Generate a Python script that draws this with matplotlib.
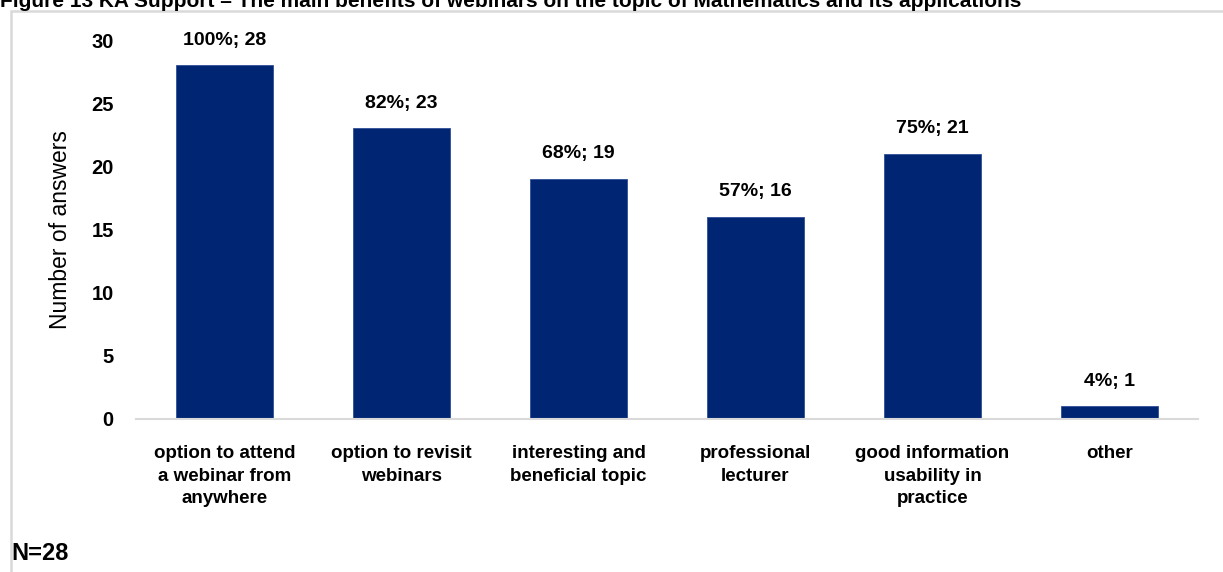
import matplotlib
matplotlib.use("Agg")
import matplotlib.pyplot as plt
from matplotlib.patches import Rectangle

plt.rcParams['font.family'] = ['Liberation Sans', 'DejaVu Sans']

# --- Survey data ---
categories = [
    "option to attend\na webinar from\nanywhere",
    "option to revisit\nwebinars",
    "interesting and\nbeneficial topic",
    "professional\nlecturer",
    "good information\nusability in\npractice",
    "other",
]
answers = [28, 23, 19, 16, 21, 1]
shares = [100, 82, 68, 57, 75, 4]
n_total = 28

title = ("Figure 13 KA Support \u2013 The main benefits of webinars on the topic of "
         "Mathematics and its applications")

W, H = 1223, 572
fig = plt.figure(figsize=(W / 100, H / 100), dpi=100)

# light frame around the chart area
fig.patches.append(Rectangle((11 / W, -0.1), 1.2, 1.1 - 11 / H,
                             transform=fig.transFigure, fill=False,
                             edgecolor="#d9d9d9", linewidth=1.8))

ax = fig.add_axes([136 / W, 153 / H, (1198 - 136) / W, (532 - 153) / H])

x = range(len(categories))
bars = ax.bar(x, answers, width=0.55, color="#002673", edgecolor="#2f4f9a",
              linewidth=0.6, zorder=2)

for b, cnt, pct in zip(bars, answers, shares):
    ax.annotate(f"{pct}%; {cnt}", (b.get_x() + b.get_width() / 2, cnt),
                xytext=(0, 12), textcoords="offset points", ha="center",
                va="bottom", fontsize=14, fontweight="bold")

ax.set_xlim(-0.5, len(categories) - 0.5)
ax.set_ylim(0, 30)
ax.set_yticks(range(0, 31, 5))
ax.set_xticks(list(x))
ax.set_xticklabels(categories, fontsize=13.5, fontweight="bold", linespacing=1.4)
for lbl in ax.get_yticklabels():
    lbl.set_fontweight("bold")
    lbl.set_fontsize(14.5)

ax.tick_params(axis="both", length=0)
ax.tick_params(axis="x", pad=19)
ax.tick_params(axis="y", pad=16)
for side in ["top", "right", "left"]:
    ax.spines[side].set_visible(False)
ax.spines["bottom"].set_color("#d9d9d9")
ax.spines["bottom"].set_linewidth(1.5)

ax.set_ylabel("Number of answers", fontsize=16.5, labelpad=14)

fig.text(0.0, 1 - 7 / H, title, fontsize=15, fontweight="bold", va="baseline")
fig.text(11 / W, 1 - 553 / H, f"N={n_total}", fontsize=17, fontweight="bold",
         va="center")

fig.savefig("out.png", dpi=100)
